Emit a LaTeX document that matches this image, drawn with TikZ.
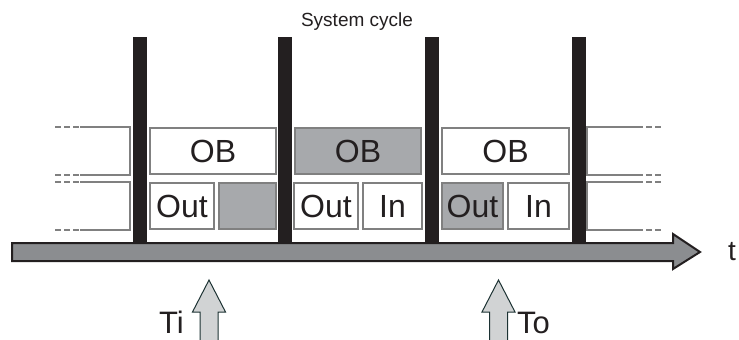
\documentclass[tikz,border=0pt]{standalone}
\usepackage{fontspec}
\setmainfont{Liberation Sans}
\usetikzlibrary{positioning}

\definecolor{ink}{HTML}{231F20}
\definecolor{boxline}{HTML}{808080}
\definecolor{boxfill}{HTML}{A7A9AC}
\definecolor{axisfill}{HTML}{8B8D90}
\definecolor{arrowfill}{HTML}{D1D3D4}

\begin{document}
\begin{tikzpicture}[x=1pt, y=-1pt,
  every node/.style={text=ink, inner sep=0pt},
  slot/.style={draw=boxline, line width=2pt, fill=white, minimum height=46pt, font=\fontsize{32}{32}\selectfont},
  busy/.style={slot, fill=boxfill},
  stub/.style={draw=boxline, line width=2pt},
  stubdash/.style={stub, dash pattern=on 6pt off 3pt},
  tmark/.style={draw=ink!80!teal, line width=1pt, fill=arrowfill}]
\useasboundingbox (0,0) rectangle (739,340);

% cycle boundaries
\foreach \x in {140,285,432,579}
  \fill[ink] (\x-7,37) rectangle (\x+7,243);

% first cycle
\node[slot, minimum width=126pt] (ob1) at (213,151) {OB};
\node[slot, minimum width=64pt] (out1) at (182,206) {Out};
\node[busy, minimum width=57pt] (in1) at (247.5,206) {};
% second cycle
\node[busy, minimum width=126pt] (ob2) at (358,151) {OB};
\node[slot, minimum width=64pt] (out2) at (326,206) {Out};
\node[slot, minimum width=59pt] (in2) at (392.5,206) {In};
% third cycle
\node[slot, minimum width=127pt] (ob3) at (505.5,151) {OB};
\node[busy, minimum width=61pt] (out3) at (472.5,206) {Out};
\node[slot, minimum width=61pt] (in3) at (538.5,206) {In};

% open ends
\foreach \ya/\yb in {127/175,182/230} {
  \draw[stub] (80,\ya) -- (130,\ya) -- (130,\yb) -- (80,\yb);
  \draw[stubdash] (55,\ya) -- (80,\ya) (55,\yb) -- (80,\yb);
  \draw[stub] (637,\ya) -- (587,\ya) -- (587,\yb) -- (637,\yb);
  \draw[stubdash] (637,\ya) -- (662,\ya) (637,\yb) -- (662,\yb);
}

% time axis
\draw[ink, line width=2pt, fill=axisfill] (12,243) -- (673,243) -- (673,234) -- (700,252)
  -- (673,269) -- (673,261) -- (12,261) -- cycle;
\node[anchor=west, font=\fontsize{28}{28}\selectfont] (t) at (728,252) {t};

\node[font=\fontsize{19}{19}\selectfont] (cycle) at (357,22) {System cycle};

% input and output instants
\foreach \x/\n in {209/ti,498.5/to} {
  \draw[tmark] (\x-9,345) -- (\x-9,312) -- (\x-16.5,312) -- (\x,280) -- (\x+16.5,312)
    -- (\x+9,312) -- (\x+9,345);
  \coordinate (\n) at (\x,312);
}
\node[anchor=base east, font=\fontsize{31}{31}\selectfont] (til) at (184,333) {Ti};
\node[anchor=base west, font=\fontsize{31}{31}\selectfont] (tol) at (517,333) {To};
\end{tikzpicture}
\end{document}
